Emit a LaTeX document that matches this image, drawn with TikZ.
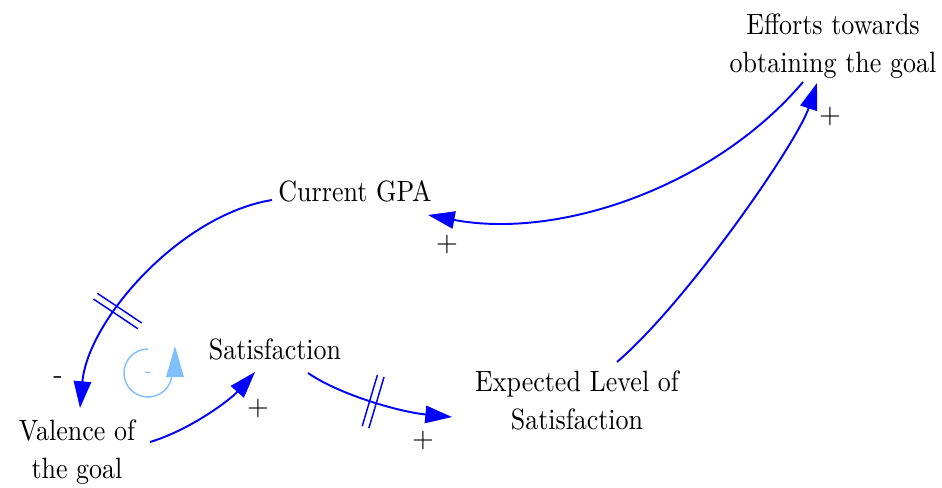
\documentclass[tikz,border=0pt]{standalone}
\usetikzlibrary{arrows.meta,decorations.markings}
\definecolor{linkblue}{RGB}{0,0,255}
\definecolor{loopblue}{RGB}{128,192,255}
\tikzset{
  var/.style={align=center,inner sep=0pt,xscale=1.95,yscale=2.2,font=\rmfamily\fontsize{10pt}{12.95pt}\selectfont},
  pol/.style={inner sep=0pt,scale=2.1,font=\rmfamily\fontsize{10pt}{12pt}\selectfont},
  link/.style={draw=linkblue,line width=1.45pt,-{Triangle[length=20pt,width=13pt]}},
  delaymark/.style={postaction={decorate},decoration={markings,mark=at position #1 with {
    \draw[linkblue,line width=1.1pt,arrows=-] (-2.6pt,-20pt) -- (-2.6pt,20pt) (2.6pt,-20pt) -- (2.6pt,20pt);}}}
}
\begin{document}
\begin{tikzpicture}[x=0.75pt,y=-0.75pt]
\useasboundingbox (0,0) rectangle (942,488);
\node[var] (eff) at (833,46) {Efforts towards\\obtaining the goal};
\node[var] (gpa) at (355,191) {Current GPA};
\node[var] (sat) at (275,349) {Satisfaction};
\node[var] (exp) at (577,400) {Expected Level of\\Satisfaction};
\node[var] (val) at (77,452) {Valence of\\the goal};

\draw[link] ([shift={(-30,36)}]eff.center) .. controls +(-88,104) and +(132,25) .. ([shift={(73,24)}]gpa.center);
\draw[link] ([shift={(40,-38)}]exp.center) .. controls +(70,-60) and +(-20,60) .. ([shift={(-16,37)}]eff.center);
\draw[link,delaymark=0.65] ([shift={(-83,9)}]gpa.center) .. controls +(-92,15) and +(8,-88) .. ([shift={(3,-44)}]val.center);
\draw[link] ([shift={(73,-10)}]val.center) .. controls +(40,-12) and +(-25,28) .. ([shift={(-20,23)}]sat.center);
\draw[link,delaymark=0.47] ([shift={(33,24)}]sat.center) .. controls +(32,22) and +(-52,-5) .. ([shift={(-125,17)}]exp.center);

\node[pol] (p1) at (447,245) {+};
\node[pol] (p2) at (830,117) {+};
\node[pol] (p3) at (58,380) {-};
\node[pol] (p4) at (258,408) {+};
\node[pol] (p5) at (423,440) {+};

% loop symbol
\draw[loopblue,line width=1.1pt] (148,349) arc[start angle=-90,end angle=-350,radius=24];
\fill[loopblue] (175,346) -- (184,377) -- (166,377) -- cycle;
\node[pol,text=loopblue,scale=0.75] (loopsign) at (148,375) {-};
\end{tikzpicture}
\end{document}
